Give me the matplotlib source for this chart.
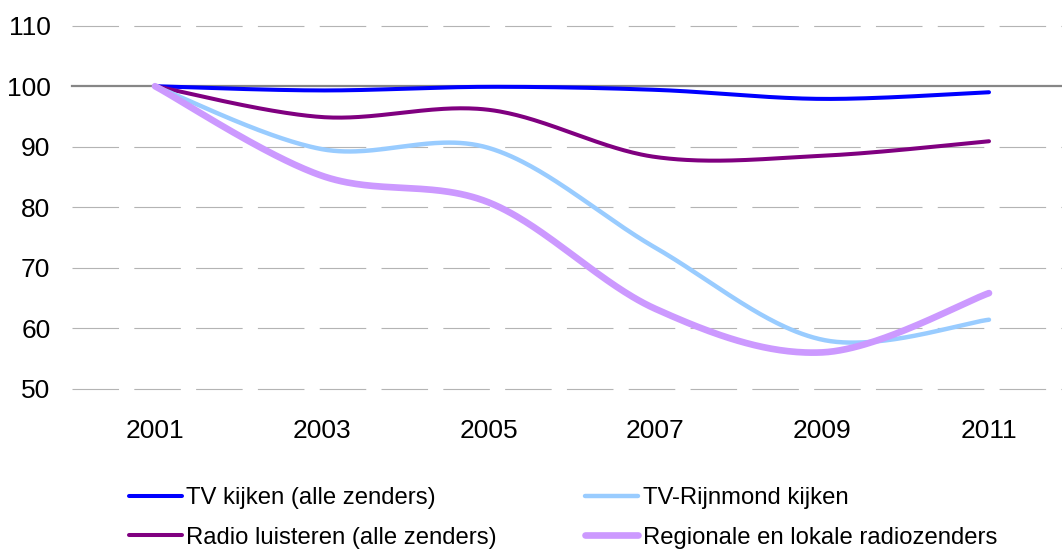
import numpy as np
import matplotlib
matplotlib.use("Agg")
import matplotlib.pyplot as plt

years = ["2001", "2003", "2005", "2007", "2009", "2011"]
tv_kijken = [100.0, 99.3, 99.9, 99.4, 97.9, 99.0]
radio_luisteren = [100.0, 94.9, 96.1, 88.3, 88.5, 90.9]
tv_rijnmond = [100.0, 89.6, 89.8, 73.3, 58.1, 61.4]
regionale_radio = [100.0, 85.2, 80.8, 63.2, 56.0, 65.8]

series = [
    ("TV kijken (alle zenders)", tv_kijken, "#0000FF", 2.9),
    ("Radio luisteren (alle zenders)", radio_luisteren, "#800080", 2.9),
    ("TV-Rijnmond kijken", tv_rijnmond, "#99CCFF", 3.2),
    ("Regionale en lokale radiozenders", regionale_radio, "#CC99FF", 4.8),
]

plt.rcParams['font.family'] = ['Liberation Sans', 'DejaVu Sans']
plt.rcParams['lines.scale_dashes'] = False


def smooth(xs, ys, n=60):
    """Catmull-Rom / Bezier smoothing similar to spreadsheet 'smoothed line'."""
    P = np.column_stack([xs, ys]).astype(float)
    P = np.vstack([P[0], P, P[-1]])
    out = []
    for i in range(1, len(P) - 2):
        p0, p1, p2, p3 = P[i - 1], P[i], P[i + 1], P[i + 2]
        c1 = p1 + (p2 - p0) / 6.0
        c2 = p2 - (p3 - p1) / 6.0
        t = np.linspace(0, 1, n)[:, None]
        b = ((1 - t) ** 3) * p1 + 3 * ((1 - t) ** 2) * t * c1 + 3 * (1 - t) * t ** 2 * c2 + t ** 3 * p2
        out.append(b if i == 1 else b[1:])
    B = np.vstack(out)
    return B[:, 0], B[:, 1]


W, H = 1062, 549
fig = plt.figure(figsize=(W / 100, H / 100), dpi=100)
left_px, right_px = 71.6, 1072.4
top_px, bot_px = 25.7, 388.7
ax = fig.add_axes([left_px / W, 1 - bot_px / H, (right_px - left_px) / W, (bot_px - top_px) / H])

x = np.arange(len(years))
ax.set_xlim(-0.5, len(years) - 0.5)
ax.set_ylim(50, 110)

yticks = [50, 60, 70, 80, 90, 100, 110]
for yv in yticks:
    if yv == 100:
        ax.axhline(yv, color="#868686", lw=1.6, zorder=1, clip_on=False)
    else:
        ax.axhline(yv, color="#B4B4B4", lw=0.8, linestyle=(0, (33.5, 11.0)), zorder=1, clip_on=False)

for label, vals, color, lw in series:
    sx, sy = smooth(x, vals)
    ax.plot(sx, sy, color=color, lw=lw, solid_capstyle="round", label=label, zorder=3, clip_on=False)

ax.set_xticks(x)
ax.set_xticklabels(years)
ax.set_yticks(yticks)
ax.set_yticklabels([str(v) for v in yticks])
ax.tick_params(axis="both", length=0, labelsize=19, colors="black")
ax.tick_params(axis="y", pad=15.2)
ax.tick_params(axis="x", pad=22)
for s in ax.spines.values():
    s.set_visible(False)

handles, labels = ax.get_legend_handles_labels()
leg = fig.legend(handles, labels, ncol=2, loc="upper left",
                 bbox_to_anchor=(129 / W, 1 - 487 / H), frameon=False,
                 fontsize=17.2, handlelength=2.2, handletextpad=0.2,
                 columnspacing=3.7, labelspacing=0.74, borderpad=0, borderaxespad=0)

fig.savefig("out.png", dpi=100)
